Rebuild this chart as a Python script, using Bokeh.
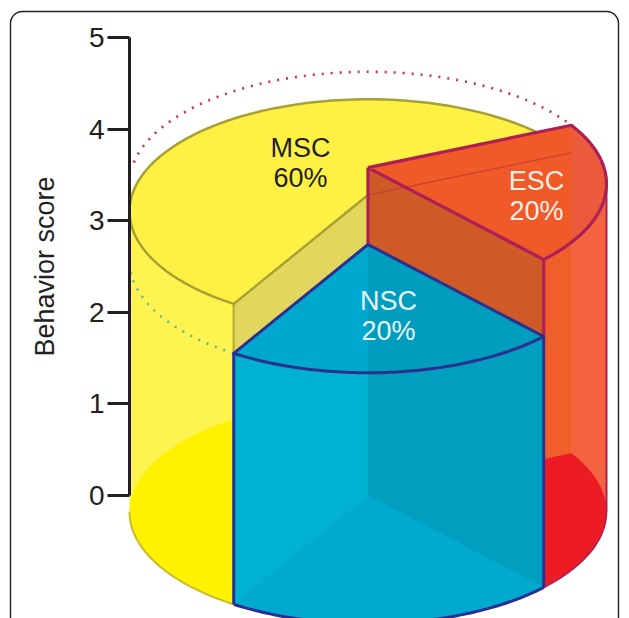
import numpy as np
from bokeh.embed import file_html
from bokeh.models import BoxAnnotation, FixedTicker, Range1d
from bokeh.plotting import figure
from bokeh.resources import INLINE
from bokeh.core.properties import value

# Chart values
slice_names = ["MSC", "ESC", "NSC"]
slice_shares = [60, 20, 20]
slice_scores = [3.28, 3.58, 2.74]
score_ticks = [0, 1, 2, 3, 4, 5]
axis_title = "Behavior score"

# Drawing geometry: an oblique cylinder whose wedges meet behind the ellipse centre
CX, RX = 367.5, 238.5
RY = 1.223          # ellipse half-height, in score units
APEX = 0.145        # apex offset towards the back, as a fraction of the radius
START = 23.9        # direction of the ESC / MSC boundary, degrees
SCALE = 91.6        # pixels per score unit
Y_ZERO = 495.0      # pixel row of score 0
FONT = "Liberation Sans"
W, H = 629, 618


def yp(px):
    return (Y_ZERO - px) / SCALE


p = figure(width=W, height=H, output_backend="svg", toolbar_location=None,
           x_range=Range1d(0, W), y_range=Range1d(yp(H), yp(0)), min_border=0,
           x_axis_location=None, background_fill_color="white", outline_line_color=None)
p.grid.visible = False


def boundary_t(phi_deg):
    """Ellipse parameter where a ray from the apex at angle phi meets the rim."""
    phi = np.radians(phi_deg)
    dx, dy = np.cos(phi), np.sin(phi)
    b = APEX * dy
    s = -b + np.sqrt(b * b - (APEX ** 2 - 1))
    return np.arctan2(APEX + s * dy, s * dx)


def rim(score, t):
    t = np.asarray(t, dtype=float)
    return CX + RX * np.cos(t), score - APEX * RY + RY * np.sin(t)


def arc(score, t0, t1, n=80):
    return rim(score, np.linspace(t0, t1, n))


def fill(x, y, color):
    p.patch(list(x), list(y), fill_color=color, line_color=None)


def stroke(x, y, color, width, alpha=1.0, dash="solid"):
    p.line(list(x), list(y), line_color=color, line_width=width, line_alpha=alpha,
           line_dash=dash, line_join="round")


def t_at_x(px, front):
    c = np.arccos((px - CX) / RX)
    return -c if front else c


# Wedge boundaries, running clockwise from the back right
msc_s, esc_s, nsc_s = slice_shares
msc_z, esc_z, nsc_z = slice_scores
phi_right = START - 360 * esc_s / 100
phi_left = phi_right - 360 * nsc_s / 100
t_back = boundary_t(START)
t_right = boundary_t(phi_right)
t_left = boundary_t(phi_left) % (2 * np.pi) - 2 * np.pi
tl = t_left + 2 * np.pi

xl = rim(0, t_left)[0]
xr = rim(0, t_right)[0]
xb = rim(0, t_back)[0]

OLIVE = "#a8a032"
CRIMSON = "#ae1f55"
NAVY = "#2b3090"

# --- MSC: outer wall, floor, inner face and top ---
ax, ay = arc(msc_z, np.pi, tl)
bx, by = arc(0, tl, np.pi)
fill(np.r_[ax, bx], np.r_[ay, by], "#fff34f")
fill(*arc(0, t_at_x(xl, False), tl), "#fff200")
stroke(*arc(0, np.pi, tl), "#c9bb2a", 2)

cl_x, cl_y = rim(msc_z, t_left)
nl_x, nl_y = rim(nsc_z, t_left)
fill([CX, cl_x, nl_x, CX], [msc_z, cl_y, nl_y, nsc_z], "#e2d75c")
stroke([cl_x, nl_x], [cl_y, nl_y], "#bdb13a", 2.5)

mx, my = arc(msc_z, tl, t_back)
fill(np.r_[CX, mx], np.r_[msc_z, my], "#fff144")
stroke(mx, my, OLIVE, 2.5)
stroke([CX, mx[0]], [msc_z, my[0]], OLIVE, 2.5)

# Dotted rim of the NSC level, running across the yellow wall
stroke(*arc(nsc_z, tl, np.pi + 0.02), "#5db89a", 2.6, dash="2 7")
# Dotted rim of the ESC level, running behind the yellow top
stroke(*arc(esc_z, t_back - 0.02, np.pi - 0.16), "#c8324f", 2.6, dash="2 7")

# --- ESC: outer wall, floor, inner face and top ---
ex, ey = arc(esc_z, 0, t_right)
gx, gy = arc(0, t_right, 0)
fill(np.r_[ex, gx], np.r_[ey, gy], "#f05f29")
# Lighter band beyond the hidden back corner
t_mb = t_at_x(xb, True)
band_up = arc(esc_z, 0, t_mb)
band_lo = arc(0, t_back, 0)
fill(np.r_[band_up[0], band_lo[0]], np.r_[band_up[1], band_lo[1]], "#f3633f")
# Red floor seen through the wall
bfx, bfy = rim(0, t_back)
frac = (xr - CX) / (bfx - CX)
fl_x, fl_y = arc(0, t_back, t_right)
fill(np.r_[xr, fl_x], np.r_[frac * bfy, fl_y], "#ed1c24")

rx_, ry_ = rim(esc_z, t_right)
nx_, ny_ = rim(nsc_z, t_right)
fill([CX, rx_, nx_, CX], [esc_z, ry_, ny_, nsc_z], "#cf5a27")

tx, ty = arc(esc_z, t_back, t_right)
fill(np.r_[CX, tx], np.r_[esc_z, ty], "#f05a28")
# The hidden back corner and yellow edge show through the top
fill(*arc(esc_z, t_at_x(xb, False), t_at_x(xb, True)), "#ea5a3b")
mbx, mby = rim(msc_z, t_back)
stroke([CX, mbx], [msc_z, mby], "#c2402c", 1.5, alpha=0.8)
stroke([CX, CX], [esc_z, nsc_z], CRIMSON, 3.2)
stroke([rx_, nx_], [ry_, ny_], CRIMSON, 3.2)
stroke(np.r_[CX, tx, CX], np.r_[esc_z, ty, esc_z], CRIMSON, 3.2)
ox, oy = rim(esc_z, 0.0)
stroke([ox, ox], [oy, rim(0, 0.0)[1]], CRIMSON, 2)
stroke(*arc(0, 0, t_right), CRIMSON, 1.6)

# --- NSC: outer wall, floor and top ---
wx, wy = arc(nsc_z, t_left, t_right)
vx, vy = arc(0, t_right, t_left)
fill(np.r_[wx, vx], np.r_[wy, vy], "#00b1d2")
fill(np.r_[CX, vx], np.r_[0, vy], "#00a9d0")
# Far side of the wall, right of the inner corner
dk_x, dk_y = arc(nsc_z, -np.pi / 2, t_right)
bcx, bcy = rim(0, t_right)
fill(np.r_[dk_x, bcx, CX], np.r_[dk_y, bcy, 0], "#009fc0")
fill(np.r_[CX, wx], np.r_[nsc_z, wy], "#00a8cf")
fill(np.r_[CX, dk_x], np.r_[nsc_z, dk_y], "#019dbf")
stroke(np.r_[CX, wx, CX], np.r_[nsc_z, wy, nsc_z], NAVY, 3)
blx, bly = rim(0, t_left)
stroke([wx[0], blx], [wy[0], bly], NAVY, 3)
stroke([wx[-1], bcx], [wy[-1], bcy], NAVY, 3)
stroke(*arc(0, t_left, t_right), NAVY, 3)

# --- Slice labels ---
label_x = [300, 536, 388]
label_y = [162, 195, 315]
label_colors = ["#231f20", "#fbeee6", "#e6f6f9"]
for name, share, x, y, c in zip(slice_names, slice_shares, label_x, label_y, label_colors):
    for text, row in ((name, y - 15), (f"{share}%", y + 15)):
        p.text([x], [yp(row)], text=[text], text_align="center", text_baseline="middle",
               text_font=value(FONT), text_font_size="27px", text_color=c)

# --- Score axis, standing on the left edge of the cylinder ---
ax_ = p.yaxis[0]
ax_.fixed_location = CX - RX
ax_.bounds = (0, 5)
ax_.ticker = FixedTicker(ticks=score_ticks)
ax_.axis_label = axis_title
ax_.axis_label_text_font = FONT
ax_.axis_label_text_font_size = "27px"
ax_.axis_label_text_font_style = "normal"
ax_.axis_label_text_color = "#231f20"
ax_.axis_label_standoff = 26
ax_.major_label_text_font = FONT
ax_.major_label_text_font_size = "28px"
ax_.major_label_text_color = "#231f20"
ax_.major_label_standoff = 3
ax_.major_tick_in = 0
ax_.major_tick_out = 22
ax_.minor_tick_line_color = None
ax_.axis_line_width = 3
ax_.major_tick_line_width = 3
ax_.axis_line_color = "#231f20"
ax_.major_tick_line_color = "#231f20"

# Rounded panel border, running off the bottom of the page
p.add_layout(BoxAnnotation(left=10, right=618, top=yp(11), bottom=yp(640),
                           fill_alpha=0, line_color="#231f20", line_alpha=1,
                           line_width=1.4, border_radius=12))

open("out.html", "w").write(file_html(p, INLINE))
